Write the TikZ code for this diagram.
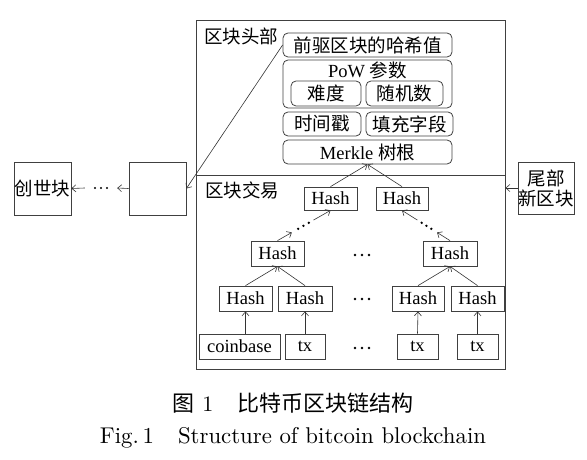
\documentclass[tikz,border=0pt]{standalone}
\usepackage{fontspec}
\usepackage{graphicx}
\newfontfamily\cjkf{Noto Sans CJK SC}
\newfontfamily\tnr{Liberation Serif}
\usetikzlibrary{arrows.meta,calc}
\newcommand\zhtxt[1]{{\cjkf #1}}
\tikzset{
  box/.style={draw=black!75, line width=0.8pt, inner sep=0pt},
  rbox/.style={box, rounded corners=5pt},
  lbl/.style={inner sep=0pt},
  arr/.style={draw=black!80, line width=0.6pt, -{Straight Barb[length=4pt,width=7pt]}},
  dotc/.style={fill=black, draw=none},
  dotsnode/.style={inner sep=0pt, minimum width=20pt, minimum height=6pt,
    path picture={\fill (path picture bounding box.center) circle (1.4pt)
       ++(-7pt,0) circle (1.4pt) ++(14pt,0) circle (1.4pt);}},
  smalldots/.style={inner sep=0pt, minimum width=16pt, minimum height=6pt,
    path picture={\fill (path picture bounding box.center) circle (1.2pt)
       ++(-6pt,0) circle (1.2pt) ++(12pt,0) circle (1.2pt);}},
  capfont/.style={font=\fontsize{10}{12}\selectfont\rmfamily}
}
\begin{document}
\begin{tikzpicture}[x=1pt,y=-1pt,font=\fontsize{18.5}{23}\selectfont\tnr]
\path[use as bounding box] (0,0) rectangle (587,460);
% outer block
\node[box, minimum width=309pt, minimum height=349pt] (outer) at (350.5,194.5) {};
\coordinate (divL) at (196,175);
\coordinate (divR) at (505,175);
\draw[box] (divL) -- (divR);
% header
\node[lbl] (hdr) at (241,36) {\zhtxt{区块头部}};
\node[rbox, minimum width=169pt, minimum height=24pt] (prev) at (367.5,45) {\zhtxt{前驱区块的哈希值}};
\node[rbox, minimum width=169pt, minimum height=48pt] (pow) at (367.5,84) {};
\node[lbl] (powt) at (367.5,70) {PoW \zhtxt{参数}};
\node[rbox, minimum width=70pt, minimum height=25pt] (diff) at (326,93.5) {\zhtxt{难度}};
\node[rbox, minimum width=77pt, minimum height=25pt] (nonce) at (404.5,93.5) {\zhtxt{随机数}};
\node[rbox, minimum width=78pt, minimum height=24pt] (time) at (322,124) {\zhtxt{时间戳}};
\node[rbox, minimum width=87pt, minimum height=24pt] (pad) at (409.5,124) {\zhtxt{填充字段}};
\node[rbox, minimum width=169pt, minimum height=24pt] (merkle) at (367.5,152) {Merkle \zhtxt{树根}};
% chain
\node[box, minimum width=57pt, minimum height=53pt] (gen) at (42.5,188.5) {\zhtxt{创世块}};
\node[box, minimum width=57pt, minimum height=53pt] (mid) at (157.5,188.5) {};
\node[smalldots, minimum width=32pt] (d0) at (101,188) {};
\node[box, minimum width=56pt, minimum height=52pt, align=center] (tail) at (546,188) {\zhtxt{尾部}\\[-3pt]\zhtxt{新区块}};
\draw[arr] (mid.west) -- (d0.east);
\draw[arr] (d0.west) -- (gen.east);
\draw[arr] (prev.west) -- (mid.east);
\draw[arr] (tail.west) -- (tail.west -| outer.east);
% transactions
\node[lbl] (txl) at (242,190) {\zhtxt{区块交易}};
\node[box, minimum width=53pt, minimum height=23pt] (h1L) at (330.5,198.5) {Hash};
\node[box, minimum width=52pt, minimum height=23pt] (h1R) at (402,198.5) {Hash};
\node[box, minimum width=53pt, minimum height=25pt] (h2L) at (277.5,253.5) {Hash};
\node[box, minimum width=54pt, minimum height=25pt] (h2R) at (450,253.5) {Hash};
\node[box, minimum width=53pt, minimum height=25pt] (h3a) at (245.5,298.5) {Hash};
\node[box, minimum width=54pt, minimum height=25pt] (h3b) at (305,298.5) {Hash};
\node[box, minimum width=52pt, minimum height=25pt] (h3c) at (418,298.5) {Hash};
\node[box, minimum width=53pt, minimum height=25pt] (h3d) at (477.5,298.5) {Hash};
\node[box, minimum width=81pt, minimum height=25pt] (cb) at (239.5,346.5) {coinbase};
\node[box, minimum width=40pt, minimum height=25pt] (tx1) at (305,346.5) {tx};
\node[box, minimum width=41pt, minimum height=25pt] (tx2) at (417.5,346.5) {tx};
\node[box, minimum width=41pt, minimum height=25pt] (tx3) at (477.5,346.5) {tx};
\node[dotsnode] (d1) at (362,255) {};
\node[dotsnode] (d2) at (362,299) {};
\node[dotsnode] (d3) at (362,348) {};
% arrows
\draw[arr] (h1L.north) -- (merkle.south);
\draw[arr] (h1R.north) -- (merkle.south);
\draw[arr] (h3a.north) -- (h2L.south);
\draw[arr] (h3b.north) -- (h2L.south);
\draw[arr] (h3c.north) -- (h2R.south);
\draw[arr] (h3d.north) -- (h2R.south);
\draw[arr] (cb.north -| h3a.south) -- (h3a.south);
\draw[arr] (tx1.north) -- (h3b.south);
\draw[arr] (tx2.north) -- (h3c.south);
\draw[arr] (tx3.north) -- (h3d.south);
% dotted links
\foreach \a/\b in {h2L/h1L, h2R/h1R}{
  \draw[arr] (\a.north) -- ($(\a.north)!0.27!(\b.south)$);
  \foreach \f in {0.39,0.49,0.59}{
    \fill[dotc] ($(\a.north)!\f!(\b.south)$) circle (1.3pt);
  }
  \draw[arr] ($(\a.north)!0.68!(\b.south)$) -- (\b.south);
}
% captions
\node[lbl, capfont] (cap1) at (293,403) {\scalebox{2.2}{\zhtxt{图}\hspace{3.5pt}1\hspace{11pt}\zhtxt{比特币区块链结构}}};
\node[lbl, capfont] (cap2) at (293,438) {\scalebox{2.28}{Fig.\,1\hspace{10.5pt}Structure of bitcoin blockchain}};
\end{tikzpicture}
\end{document}
